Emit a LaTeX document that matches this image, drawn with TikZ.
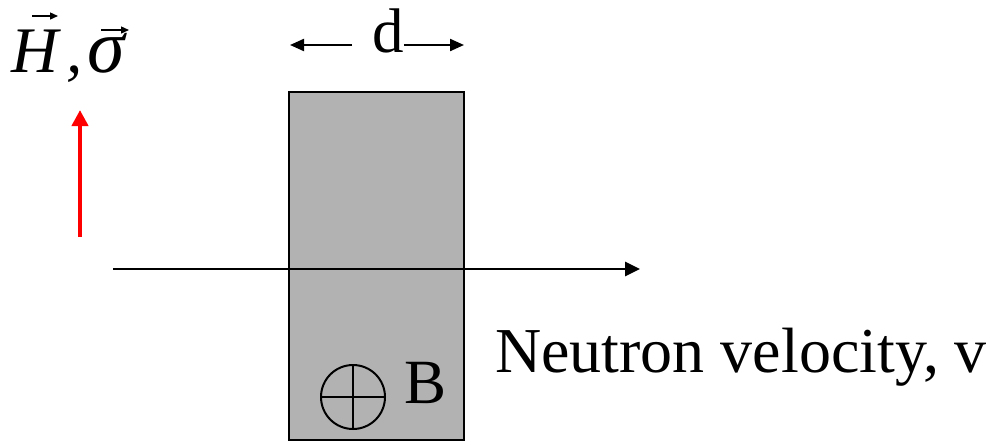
\documentclass[tikz,border=0pt]{standalone}
\usepackage{fontspec}
\setmainfont{Liberation Serif}
\usetikzlibrary{arrows.meta}
\tikzset{
  big/.style={font=\fontsize{63}{70}\selectfont, inner sep=0pt},
  lab/.style={font=\fontsize{65}{70}\selectfont\itshape, inner sep=0pt},
  slabbox/.style={draw=black, fill=black!30, line width=2.6pt, minimum width=175pt, minimum height=348pt, inner sep=0pt},
  blackarrow/.style={line width=2.8pt, -{Triangle[length=15pt,width=14pt]}},
  darrow/.style={line width=2.2pt, -{Triangle[length=14pt,width=12pt]}},
  redarrow/.style={draw=red, line width=4pt, -{Triangle[length=16pt,width=16pt]}},
  vecarrow/.style={line width=1.4pt, -{Triangle[length=8pt,width=7pt]}},
}
\begin{document}
\begin{tikzpicture}[x=1pt,y=-1pt]
\useasboundingbox (0,0) rectangle (990,445);
% slab
\node[slabbox] (slab) at (376.5,266) {};
% velocity axis
\coordinate (vstart) at (113,269);
\coordinate (vend) at (640,269);
\draw[blackarrow] (vstart) -- (vend);
% label
\node[big, anchor=base west, font=\fontsize{64}{70}\selectfont] (vel) at (495,372) {Neutron velocity, v};
% d
\node[big, anchor=base west] (d) at (372,52) {d};
\coordinate (dl) at (290,45);
\coordinate (dr) at (464,45);
\coordinate (dls) at (352,45);
\draw[darrow] (dls) -- (dl);
\draw[darrow] (d.base east |- dr) -- (dr);
% B with circle-plus
\node[draw, circle, line width=2pt, minimum size=64pt, inner sep=0pt] (cp) at (353,397) {};
\draw[line width=2pt] (cp.north) -- (cp.south);
\draw[line width=2pt] (cp.west) -- (cp.east);
\node[big, anchor=base west] (B) at (404,403) {B};
% red arrow
\coordinate (rbot) at (80,237);
\coordinate (rtop) at (80,110);
\draw[redarrow] (rbot) -- (rtop);
% H, sigma
\node[lab, anchor=base west] (H) at (11,72) {H};
\node[lab, anchor=base west] (comma) at (66,72) {,};
\node[lab, anchor=base west, font=\fontsize{76}{80}\selectfont\itshape] (sig) at (87,72) {σ};
\coordinate (ha) at (32,16);
\coordinate (hb) at (58,16);
\coordinate (sa) at (101,30);
\coordinate (sb) at (129,30);
\draw[vecarrow] (ha) -- (hb);
\draw[vecarrow] (sa) -- (sb);
\end{tikzpicture}
\end{document}
